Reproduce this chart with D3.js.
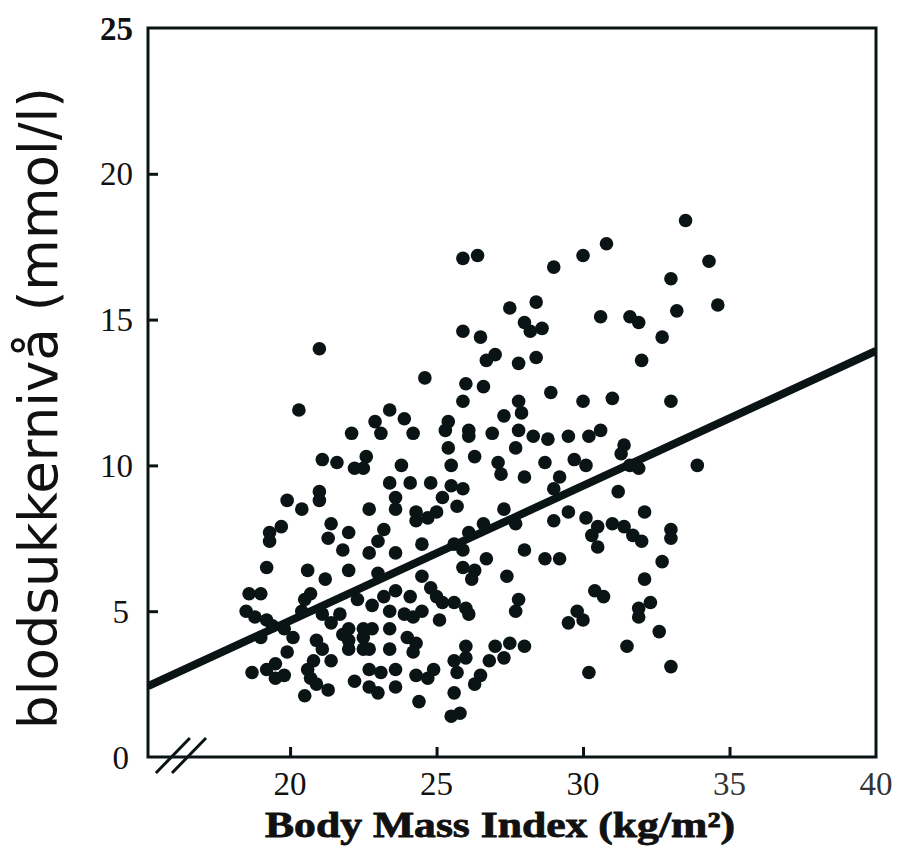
<!DOCTYPE html>
<html>
<head>
<meta charset="utf-8">
<script src="https://cdn.jsdelivr.net/npm/d3@7"></script>
<style>
  body { margin: 0; background: #fff; }
  svg { display: block; }
</style>
</head>
<body>
<svg id="chart" width="897" height="847"></svg>
<script>
// data: BMI (kg/m2) and blood sugar (mmol/l)
const bmi = [
  33.5, 34.3, 33.0, 33.2, 34.6, 32.7, 32.0, 33.0, 33.9,
  25.9, 26.4, 29.0, 30.0, 30.8, 27.5, 28.4, 28.0, 28.2, 28.6, 30.6, 31.6, 31.9,
  25.9, 26.5, 26.7, 27.0, 27.8, 28.4, 26.0, 26.6, 25.9, 27.8, 28.9, 30.0, 31.0,
  27.3, 27.9, 25.4, 26.1, 26.1, 26.9, 27.8, 28.3, 28.8, 29.5, 30.2, 30.6,
  27.7, 25.4, 26.3, 27.1, 27.2, 28.0, 28.7, 29.7, 30.1, 29.2, 31.4, 31.3, 31.6, 31.9, 31.2,
  25.5, 25.5, 25.9, 29.0, 25.7, 27.3, 27.7, 26.6, 26.1, 25.6, 25.9,
  32.1, 29.5, 29.0, 30.1, 30.5, 31.0, 31.4, 31.7, 32.0, 33.0, 33.0, 30.3, 30.5,
  28.0, 28.7, 29.2, 26.7, 25.9, 26.3, 26.2, 27.4, 32.7, 32.1, 30.4, 30.7,
  27.8, 27.7, 29.8, 30.0, 29.5, 31.9, 31.9, 32.3, 32.6, 31.5, 33.0, 30.2,
  25.6, 26.0, 26.0, 26.0, 27.0, 27.5, 28.0, 26.8, 27.3, 25.6, 25.7, 26.5, 26.3, 25.6, 25.5, 25.8,
  21.0, 20.3, 24.6, 23.4, 23.9, 22.9, 23.1, 22.1, 24.2, 25.3,
  21.1, 21.6, 22.6, 22.2, 22.5, 23.8, 23.4, 24.1, 24.8, 25.2, 23.6, 23.6,
  21.0, 21.0, 19.9, 20.4, 22.7, 24.3, 24.3, 25.0, 24.7, 21.4, 21.3, 22.0, 23.2, 23.0,
  19.7, 19.3, 19.3, 21.8, 22.7, 23.6, 24.5, 19.2, 20.6, 21.2, 22.0, 23.0, 18.6, 19.0, 20.7,
  18.5, 18.8, 19.2, 20.5, 20.4, 21.1, 21.7, 21.4, 21.8, 19.8, 20.1, 19.0, 19.4,
  22.3, 22.8, 23.2, 23.4, 23.6, 23.9, 24.5, 24.8, 24.1, 24.5, 25.0, 25.2, 26.1, 25.1, 24.2,
  23.4, 22.0, 22.5, 22.8, 22.0, 22.5, 22.0, 22.5, 22.7, 23.4, 24.0, 24.3, 24.2,
  20.9, 21.1, 21.4, 20.8, 20.6, 20.7, 19.9, 19.5, 19.2, 18.7, 19.8, 19.5, 20.9, 21.3, 20.5,
  22.2, 22.7, 23.1, 23.6, 22.7, 23.0, 23.6, 24.3, 24.7, 24.9, 24.4
];
const sugar = [
  18.4, 17.0, 16.4, 15.3, 15.5, 14.4, 13.6, 12.2, 10.0,
  17.1, 17.2, 16.8, 17.2, 17.6, 15.4, 15.6, 14.9, 14.6, 14.7, 15.1, 15.1, 14.9,
  14.6, 14.4, 13.6, 13.8, 13.5, 13.7, 12.8, 12.7, 12.2, 12.2, 12.5, 12.2, 12.3,
  11.7, 11.8, 11.5, 11.2, 11.0, 11.1, 11.2, 11.0, 10.9, 11.0, 11.0, 11.2,
  10.6, 10.6, 10.3, 10.1, 9.7, 9.6, 10.1, 10.2, 10.0, 9.6, 10.7, 10.4, 10.0, 9.9, 9.1,
  10.0, 9.3, 9.2, 9.2, 8.6, 8.5, 8.0, 8.0, 7.7, 7.3, 7.1,
  8.4, 8.4, 8.1, 8.2, 7.9, 8.0, 7.9, 7.6, 7.4, 7.8, 7.5, 7.6, 7.2,
  7.1, 6.8, 6.8, 6.8, 6.5, 6.4, 6.1, 6.2, 6.7, 6.1, 5.7, 5.5,
  5.4, 5.0, 5.0, 4.7, 4.6, 5.1, 4.8, 5.3, 4.3, 3.8, 3.1, 2.9,
  5.3, 5.1, 3.8, 3.4, 3.8, 3.9, 3.8, 3.3, 3.4, 3.3, 2.9, 2.8, 2.5, 2.2, 1.4, 1.5,
  14.0, 11.9, 13.0, 11.9, 11.6, 11.5, 11.1, 11.1, 11.1, 11.2,
  10.2, 10.1, 10.3, 9.9, 9.9, 10.0, 9.4, 9.4, 9.4, 8.9, 8.9, 8.5,
  9.1, 8.8, 8.8, 8.5, 8.5, 8.4, 8.1, 8.4, 8.2, 8.0, 7.5, 7.7, 7.8, 7.4,
  7.9, 7.7, 7.4, 7.1, 7.0, 7.0, 7.3, 6.5, 6.4, 6.1, 6.4, 6.3, 5.6, 5.6, 5.6,
  5.0, 4.8, 4.7, 5.4, 5.0, 4.9, 4.9, 4.6, 4.2, 4.4, 4.1, 4.1, 4.5,
  5.4, 5.2, 5.5, 5.0, 5.7, 4.9, 6.2, 5.8, 5.5, 5.0, 5.5, 5.3, 4.9, 4.7, 4.8,
  4.4, 4.4, 4.4, 4.4, 4.0, 4.1, 3.7, 3.7, 3.7, 3.7, 4.1, 3.9, 3.6,
  4.0, 3.7, 3.3, 3.3, 3.0, 2.7, 3.6, 3.2, 3.0, 2.9, 2.8, 2.7, 2.5, 2.3, 2.1,
  2.6, 3.0, 2.9, 3.0, 2.4, 2.2, 2.4, 2.8, 2.7, 3.0, 1.9
];
const points = bmi.map((d, i) => ({ x: d, y: sugar[i] }));

// fitted line, end points
const lineBmi = [15.15, 40];
const lineSugar = [2.43, 13.93];

const xTicks = [20, 25, 30, 35, 40];
const yTicks = [0, 5, 10, 15, 20, 25];

const ink = "#0b1414";
const plotLeft = 148, plotRight = 876, plotTop = 28, plotBottom = 757;

const svg = d3.select("#chart");

const x = d3.scaleLinear().domain([15.15, 40]).range([plotLeft, plotRight]);
const y = d3.scaleLinear().domain([0, 25]).range([plotBottom, plotTop]);

svg.append("clipPath").attr("id", "plot")
    .append("rect")
    .attr("x", plotLeft).attr("y", plotTop)
    .attr("width", plotRight - plotLeft).attr("height", plotBottom - plotTop);

// regression line
svg.append("line")
    .attr("clip-path", "url(#plot)")
    .attr("x1", x(lineBmi[0])).attr("y1", y(lineSugar[0]))
    .attr("x2", x(lineBmi[1])).attr("y2", y(lineSugar[1]))
    .style("stroke", ink)
    .style("stroke-width", 8);

// dots
svg.append("g")
    .selectAll("circle")
    .data(points)
    .join("circle")
    .attr("cx", d => x(d.x))
    .attr("cy", d => y(d.y))
    .attr("r", 6.8)
    .style("fill", ink);

// frame
svg.append("rect")
    .attr("x", plotLeft).attr("y", plotTop)
    .attr("width", plotRight - plotLeft).attr("height", plotBottom - plotTop)
    .style("fill", "none")
    .style("stroke", ink)
    .style("stroke-width", 3);

// inward ticks via d3 axes
const xAxis = svg.append("g")
    .attr("transform", `translate(0,${plotBottom})`)
    .call(d3.axisTop(x).tickValues(xTicks.filter(t => t < 40)).tickSize(10).tickFormat(""));
const yAxis = svg.append("g")
    .attr("transform", `translate(${plotLeft},0)`)
    .call(d3.axisRight(y).tickValues(yTicks.filter(t => t > 0 && t < 25)).tickSize(10).tickFormat(""));
[xAxis, yAxis].forEach(g => {
    g.select(".domain").remove();
    g.selectAll(".tick line").style("stroke", ink).style("stroke-width", 3);
});

// tick labels
svg.append("g")
    .selectAll("text")
    .data(xTicks)
    .join("text")
    .attr("x", d => x(d))
    .attr("y", 795)
    .attr("text-anchor", "middle")
    .style("font-family", "'Liberation Serif', serif")
    .style("font-size", "33px")
    .style("fill", d => d >= 35 ? "#333" : "#111")
    .text(d => d);

svg.append("g")
    .selectAll("text")
    .data(yTicks)
    .join("text")
    .attr("x", d => d < 10 ? 129 : 133)
    .attr("y", d => y(d))
    .attr("dy", "0.35em")
    .attr("text-anchor", "end")
    .style("font-family", "'Liberation Serif', serif")
    .style("font-size", "33px")
    .style("font-weight", d => d === 25 ? "bold" : "normal")
    .style("fill", "#111")
    .text(d => d);

// axis break marks
const breakAt = [16.0, 16.55];
svg.append("g")
    .selectAll("line")
    .data(breakAt)
    .join("line")
    .attr("x1", d => x(d) - 17).attr("y1", plotBottom + 16)
    .attr("x2", d => x(d) + 17).attr("y2", plotBottom - 19)
    .style("stroke", ink)
    .style("stroke-width", 3);

// axis titles
svg.append("text")
    .attr("x", 500)
    .attr("y", 837)
    .attr("text-anchor", "middle")
    .attr("textLength", 470)
    .attr("lengthAdjust", "spacingAndGlyphs")
    .style("font-family", "'Liberation Serif', serif")
    .style("font-weight", "bold")
    .style("font-size", "35px")
    .style("fill", "#111")
    .style("stroke", "#111")
    .style("stroke-width", 0.8)
    .text("Body Mass Index (kg/m²)");

svg.append("text")
    .attr("transform", "translate(57,408) rotate(-90)")
    .attr("text-anchor", "middle")
    .style("font-family", "'DejaVu Sans', sans-serif")
    .style("font-size", "53px")
    .style("fill", "#111")
    .text("blodsukkernivå (mmol/l)");
</script>
</body>
</html>
